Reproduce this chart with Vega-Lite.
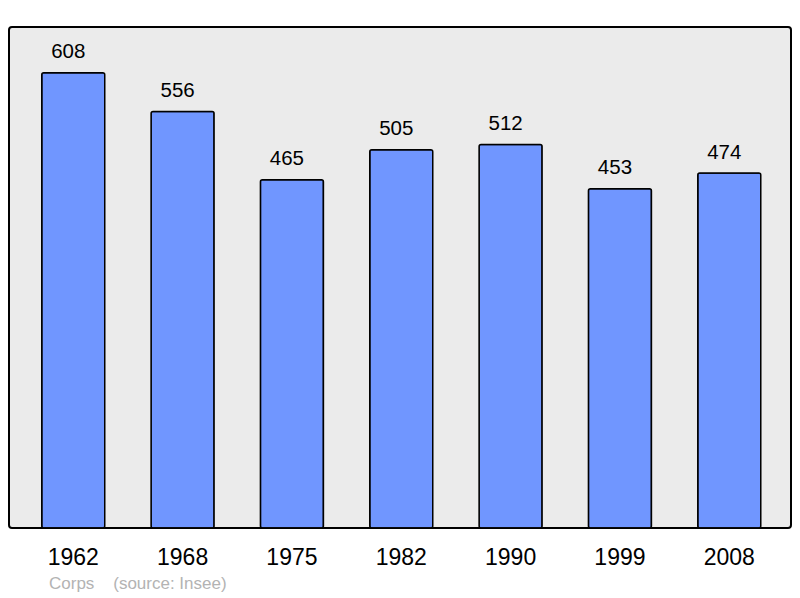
{
  "$schema": "https://vega.github.io/schema/vega-lite/v6.json",
  "autosize": {"type": "none"},
  "width": 782,
  "height": 501,
  "padding": {"left": 9, "top": 27, "right": 9, "bottom": 70},
  "background": "white",
  "config": {
    "font": "Liberation Sans",
    "view": {"fill": "#ebebeb", "stroke": "black", "strokeWidth": 2, "cornerRadius": 3}
  },
  "title": {
    "text": "Corps\u00a0\u00a0\u00a0\u00a0(source: Insee)",
    "orient": "bottom",
    "anchor": "start",
    "frame": "group",
    "dx": 40,
    "offset": 20,
    "baseline": "alphabetic",
    "fontSize": 17,
    "fontWeight": "normal",
    "color": "#b3b3b3"
  },
  "data": {
    "values": [
      {"year": "1962", "pop": 608},
      {"year": "1968", "pop": 556},
      {"year": "1975", "pop": 465},
      {"year": "1982", "pop": 505},
      {"year": "1990", "pop": 512},
      {"year": "1999", "pop": 453},
      {"year": "2008", "pop": 474}
    ]
  },
  "encoding": {
    "x": {
      "field": "year",
      "type": "nominal",
      "sort": null,
      "scale": {"paddingInner": 0.4238, "paddingOuter": 0.288, "align": 0.52},
      "axis": {
        "title": null,
        "domain": false,
        "ticks": false,
        "grid": false,
        "labelAngle": 0,
        "labelFontSize": 23,
        "labelColor": "black",
        "labelBaseline": "alphabetic",
        "labelPadding": 36
      }
    },
    "y": {
      "field": "pop",
      "type": "quantitative",
      "scale": {"domain": [0, 669], "nice": false},
      "axis": null
    }
  },
  "layer": [
    {
      "mark": {"type": "bar", "fill": "#7096ff", "stroke": "black", "strokeWidth": 1.5, "cornerRadius": 2}
    },
    {
      "mark": {"type": "text", "baseline": "alphabetic", "dx": -5, "dy": -14.5, "fontSize": 20.5, "color": "black"},
      "encoding": {"text": {"field": "pop", "type": "quantitative"}}
    }
  ]
}
